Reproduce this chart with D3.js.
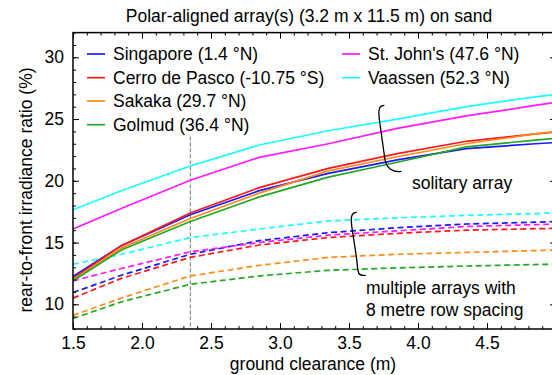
<!DOCTYPE html>
<html>
<head>
<meta charset="utf-8">
<script src="https://cdn.jsdelivr.net/npm/d3@7"></script>
<style>
  body { margin: 0; background: #fff; }
  svg { display: block; font-family: "Liberation Sans", Arial, sans-serif; }
</style>
</head>
<body>
<svg id="chart" width="552" height="375"></svg>
<script>
// ground clearance (m)
const clearance = [1.5, 1.85, 2.35, 2.85, 3.35, 3.85, 4.35, 4.85, 5.0];

const sites = ["Singapore (1.4 °N)", "Cerro de Pasco (-10.75 °S)", "Sakaka (29.7 °N)",
  "Golmud (36.4 °N)", "St. John's (47.6 °N)", "Vaassen (52.3 °N)"];
const colors = ["#1a1aff", "#ff1a1a", "#ff8c1a", "#22a822", "#ff1aff", "#1affff"];

// solitary array (solid lines)
const soloSingapore = [12.25, 14.75, 17.25, 19.2, 20.6, 21.7, 22.6, 23.0, 23.1];
const soloCerro     = [12.1, 14.75, 17.4, 19.45, 21.0, 22.2, 23.2, 23.8, 23.95];
const soloSakaka    = [12.0, 14.55, 16.95, 19.0, 20.8, 21.95, 23.0, 23.8, 24.0];
const soloGolmud    = [11.9, 14.4, 16.7, 18.7, 20.3, 21.5, 22.75, 23.3, 23.45];
const soloStJohns   = [16.1, 17.75, 20.05, 21.9, 23.0, 24.25, 25.25, 26.1, 26.35];
const soloVaassen   = [17.65, 19.2, 21.2, 22.9, 24.05, 25.0, 26.0, 26.8, 27.0];

// multiple arrays, 8 m row spacing (dashed lines)
const multiSingapore = [10.95, 12.35, 14.05, 15.15, 15.8, 16.2, 16.5, 16.65, 16.7];
const multiCerro     = [10.5, 12.1, 13.8, 14.8, 15.4, 15.75, 16.0, 16.12, 16.15];
const multiSakaka    = [9.1, 10.5, 12.3, 13.15, 13.8, 14.05, 14.2, 14.35, 14.4];
const multiGolmud    = [8.85, 10.2, 11.62, 12.3, 12.75, 12.95, 13.1, 13.22, 13.25];
const multiStJohns   = [11.9, 12.9, 14.25, 15.0, 15.6, 15.95, 16.3, 16.45, 16.5];
const multiVaassen   = [13.25, 14.05, 15.4, 16.1, 16.75, 17.0, 17.2, 17.35, 17.4];

const solo = [soloSingapore, soloCerro, soloSakaka, soloGolmud, soloStJohns, soloVaassen];
const multi = [multiSingapore, multiCerro, multiSakaka, multiGolmud, multiStJohns, multiVaassen];

const xTicks = [1.5, 2.0, 2.5, 3.0, 3.5, 4.0, 4.5, 5.0];
const yTicks = [10, 15, 20, 25, 30];
const refClearance = 2.35;

const plotLeft = 73, plotRight = 556, plotTop = 32.6, plotBottom = 329;
const fs = 17.5;

const svg = d3.select("#chart");

const x = d3.scaleLinear().domain([1.5, 5.0]).range([plotLeft, plotRight]);
const y = d3.scaleLinear().domain([8, 32]).range([plotBottom, plotTop]);

const minorX = d3.range(15, 51).map(d => d / 10);
const minorY = d3.range(8, 33);

// reference clearance line
svg.append("line")
  .attr("x1", x(refClearance)).attr("x2", x(refClearance))
  .attr("y1", y(23.6)).attr("y2", plotBottom)
  .attr("stroke", "#777").attr("stroke-width", 1)
  .attr("stroke-dasharray", "4,2");

// lines
const line = d3.line()
  .x((d, i) => x(clearance[i]))
  .y(d => y(d));

multi.forEach((s, i) => {
  svg.append("path").datum(s)
    .attr("d", line).attr("fill", "none")
    .attr("stroke", colors[i]).attr("stroke-width", 1.7)
    .attr("stroke-dasharray", "6,3.5");
});
solo.forEach((s, i) => {
  svg.append("path").datum(s)
    .attr("d", line).attr("fill", "none")
    .attr("stroke", colors[i]).attr("stroke-width", 1.7);
});

// axes (ticks pointing inward)
function styleAxis(g) {
  g.select(".domain").remove();
  g.selectAll("line").attr("stroke", "#000").attr("stroke-width", 1);
  g.selectAll("text").attr("font-size", fs).attr("fill", "#000")
    .attr("font-family", '"Liberation Sans", Arial, sans-serif');
}

svg.append("g").attr("transform", `translate(0,${plotBottom})`)
  .call(d3.axisBottom(x).tickValues(minorX).tickSize(-3).tickFormat(""))
  .call(styleAxis);
svg.append("g").attr("transform", `translate(0,${plotBottom})`)
  .call(d3.axisBottom(x).tickValues(xTicks).tickSize(-6).tickPadding(8)
    .tickFormat(d => d < 5 ? d3.format(".1f")(d) : ""))
  .call(styleAxis);
svg.append("g").attr("transform", `translate(0,${plotTop})`)
  .call(d3.axisTop(x).tickValues(minorX).tickSize(-3).tickFormat(""))
  .call(styleAxis);
svg.append("g").attr("transform", `translate(0,${plotTop})`)
  .call(d3.axisTop(x).tickValues(xTicks).tickSize(-6).tickFormat(""))
  .call(styleAxis);
svg.append("g").attr("transform", `translate(${plotLeft},0)`)
  .call(d3.axisLeft(y).tickValues(minorY).tickSize(-3).tickFormat(""))
  .call(styleAxis);
svg.append("g").attr("transform", `translate(${plotLeft},0)`)
  .call(d3.axisLeft(y).tickValues(yTicks).tickSize(-6).tickPadding(9))
  .call(styleAxis);
svg.append("g").attr("transform", `translate(${plotRight},0)`)
  .call(d3.axisRight(y).tickValues(minorY).tickSize(-3).tickFormat(""))
  .call(styleAxis);
svg.append("g").attr("transform", `translate(${plotRight},0)`)
  .call(d3.axisRight(y).tickValues(yTicks).tickSize(-6).tickFormat(""))
  .call(styleAxis);

// frame
svg.append("rect")
  .attr("x", plotLeft).attr("y", plotTop)
  .attr("width", plotRight - plotLeft).attr("height", plotBottom - plotTop)
  .attr("fill", "none").attr("stroke", "#000").attr("stroke-width", 1.5);

// title and axis labels
svg.append("text")
  .attr("x", 309).attr("y", 22)
  .attr("text-anchor", "middle").attr("font-size", fs)
  .text("Polar-aligned array(s) (3.2 m x 11.5 m) on sand");

svg.append("text")
  .attr("x", 313).attr("y", 370)
  .attr("text-anchor", "middle").attr("font-size", fs)
  .text("ground clearance (m)");

svg.append("text")
  .attr("transform", "rotate(-90)")
  .attr("x", -190).attr("y", 32)
  .attr("text-anchor", "middle").attr("font-size", fs)
  .text("rear-to-front irradiance ratio (%)");

// legend
const legendPos = [[87, 54], [87, 77.7], [87, 101], [87, 124.7], [342, 54], [342, 77.7]];
sites.forEach((name, i) => {
  const [lx, ly] = legendPos[i];
  svg.append("line")
    .attr("x1", lx).attr("x2", lx + 18).attr("y1", ly).attr("y2", ly)
    .attr("stroke", colors[i]).attr("stroke-width", 1.7);
  svg.append("text")
    .attr("x", lx + 26).attr("y", ly + 6)
    .attr("font-size", fs)
    .text(name);
});

// annotation brackets
function bracket(x0, y0, h, w) {
  return `M${x0 + 5},${y0} C${x0 - 1},${y0} ${x0 - 1},${y0 + 6} ${x0},${y0 + 14} ` +
    `L${x0 + 5},${y0 + h - 16} C${x0 + 6},${y0 + h - 2} ${x0 + w - 8},${y0 + h + 1} ${x0 + w},${y0 + h}`;
}
svg.append("path")
  .attr("d", bracket(x(3.72), y(26.1), 66, 22))
  .attr("fill", "none").attr("stroke", "#000").attr("stroke-width", 1.3);
svg.append("path")
  .attr("d", bracket(x(3.52), y(17.45), 63, 14))
  .attr("fill", "none").attr("stroke", "#000").attr("stroke-width", 1.3);

svg.append("text").attr("x", 412).attr("y", 189).attr("font-size", fs)
  .text("solitary array");
svg.append("text").attr("x", 366).attr("y", 294).attr("font-size", fs)
  .text("multiple arrays with");
svg.append("text").attr("x", 366).attr("y", 316).attr("font-size", fs)
  .text("8 metre row spacing");
</script>
</body>
</html>
